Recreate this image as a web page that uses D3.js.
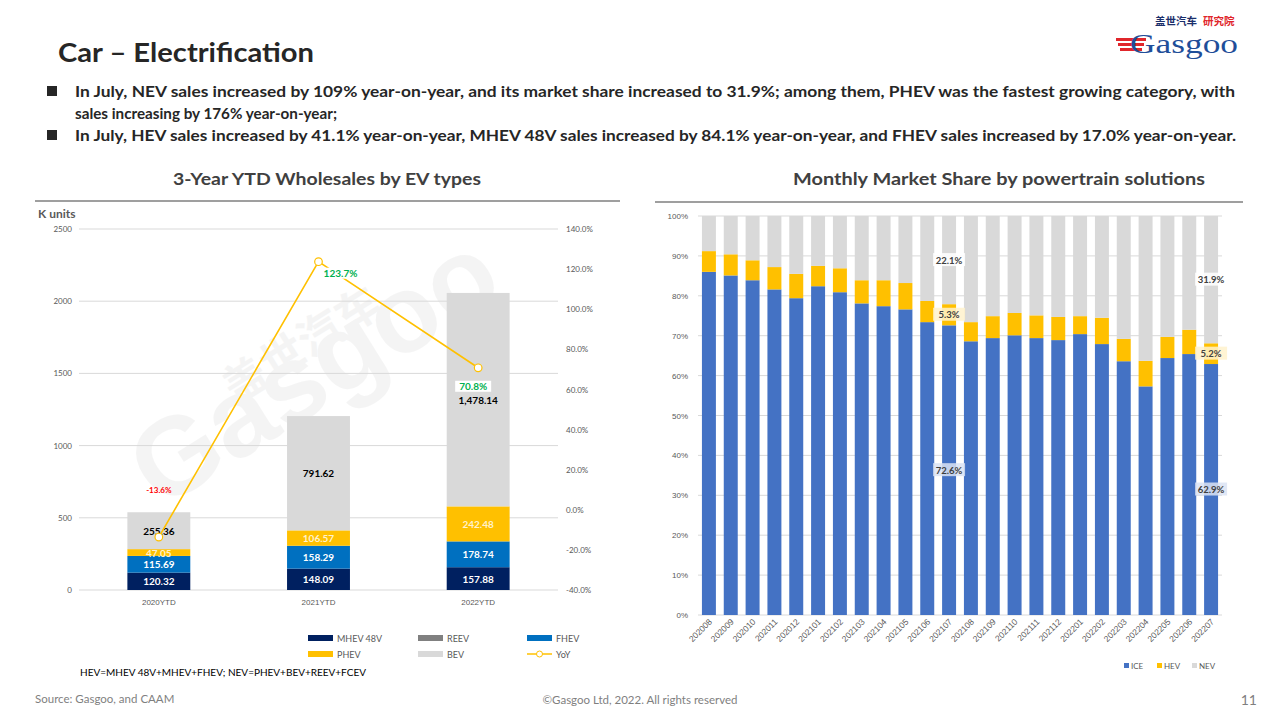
<!DOCTYPE html>
<html><head><meta charset="utf-8">
<script src="https://cdn.jsdelivr.net/npm/d3@7"></script>
<style>
body{margin:0;background:#fff;}
svg{display:block;font-family:Lato,"Noto Sans",sans-serif;}
</style></head>
<body><svg id="c" width="1280" height="720"></svg>
<script>
// ---------- DATA ----------
const ytdCategories = ["2020YTD","2021YTD","2022YTD"];
const mhev48v = [120.32,148.09,157.88];
const fhev    = [115.69,158.29,178.74];
const phev    = [47.05,106.57,242.48];
const reev    = [0,0,0];
const bev     = [255.36,791.62,1478.14];
const yoy     = [-13.6,123.7,70.8];
const leftTicks  = [0,500,1000,1500,2000,2500];
const rightTicks = [-40,-20,0,20,40,60,80,100,120,140];

const months = ["202008","202009","202010","202011","202012","202101","202102","202103","202104","202105","202106","202107",
                "202108","202109","202110","202111","202112","202201","202202","202203","202204","202205","202206","202207"];
const iceShare = [86.0,85.1,83.9,81.6,79.4,82.4,80.9,78.1,77.4,76.6,73.4,72.6,68.6,69.4,70.1,69.4,68.9,70.4,67.9,63.6,57.3,64.4,65.4,62.9];
const hevShare = [5.2,5.3,5.0,5.6,6.1,5.1,6.0,5.8,6.5,6.6,5.3,5.3,4.8,5.5,5.6,5.7,5.8,4.5,6.6,5.6,6.4,5.3,6.1,5.2];
const nevShare = [8.8,9.6,11.1,12.8,14.5,12.5,13.1,16.1,16.1,16.8,21.3,22.1,26.6,25.1,24.3,24.9,25.3,25.1,25.5,30.8,36.3,30.3,28.5,31.9];
const shareTicks = [0,10,20,30,40,50,60,70,80,90,100];

// ---------- SETUP ----------
const svg = d3.select("#c");
const dark = "#262626", grey = "#595959", grid = "#d9d9d9";

// Header
svg.append("text").attr("x",58).attr("y",62).attr("font-size",27).attr("font-weight",700)
  .attr("fill",dark).attr("textLength",256).attr("lengthAdjust","spacingAndGlyphs").text("Car – Electrification");
const bullets = [
  {y:97, t:"In July, NEV sales increased by 109% year-on-year, and its market share increased to 31.9%; among them, PHEV was the fastest growing category, with", w:1160, b:true},
  {y:119,t:"sales increasing by 176% year-on-year;", w:262, b:false},
  {y:141,t:"In July, HEV sales increased by 41.1% year-on-year, MHEV 48V sales increased by 84.1% year-on-year, and FHEV sales increased by 17.0% year-on-year.", w:1161, b:true}
];
bullets.forEach(d=>{
  if(d.b) svg.append("rect").attr("x",47).attr("y",d.y-11).attr("width",10).attr("height",10).attr("fill",dark);
  svg.append("text").attr("x",75).attr("y",d.y).attr("font-size",15.5).attr("font-weight",700).attr("fill",dark)
    .attr("textLength",d.w).attr("lengthAdjust","spacingAndGlyphs").text(d.t);
});

// Logo
const logo = svg.append("g");
logo.append("text").attr("x",1155).attr("y",25).attr("font-size",10.5).attr("font-weight",700).attr("fill","#1b2f6b")
  .attr("font-family","Noto Sans CJK SC").text("盖世汽车");
logo.append("text").attr("x",1203).attr("y",25).attr("font-size",10.5).attr("font-weight",700).attr("fill","#e0262b")
  .attr("font-family","Noto Sans CJK SC").text("研究院");
[0,1,2].forEach(i=>logo.append("rect").attr("x",1116+i*2).attr("y",38+i*5).attr("width",30-i*4).attr("height",3).attr("fill","#e0262b"));
logo.append("text").attr("x",1130).attr("y",53).attr("font-size",27).attr("fill","#1f4e99")
  .attr("font-family","Liberation Serif").attr("textLength",108).attr("lengthAdjust","spacingAndGlyphs").text("Gasgoo");

// Footer
svg.append("text").attr("x",35).attr("y",703).attr("font-size",11.5).attr("fill","#7f7f7f").text("Source: Gasgoo, and CAAM");
svg.append("text").attr("x",640).attr("y",704).attr("text-anchor","middle").attr("font-size",11.5).attr("fill","#7f7f7f").text("©Gasgoo Ltd,  2022. All rights reserved");
svg.append("text").attr("x",1257).attr("y",705).attr("text-anchor","end").attr("font-size",14).attr("fill","#7f7f7f").text("11");

// ---------- LEFT CHART ----------
svg.append("text").attr("x",173).attr("y",185).attr("font-size",17).attr("font-weight",700)
  .attr("fill","#404040").attr("textLength",308).attr("lengthAdjust","spacingAndGlyphs").text("3-Year YTD Wholesales  by EV types");
svg.append("line").attr("x1",35).attr("x2",620).attr("y1",201).attr("y2",201).attr("stroke","#7f7f7f").attr("stroke-width",1.3);
svg.append("text").attr("x",38).attr("y",218).attr("font-size",12).attr("font-weight",700).attr("fill",grey).text("K units");

// watermark
const wm = svg.append("g").attr("opacity",0.4).attr("pointer-events","none");
wm.append("text").attr("transform","translate(160,510) rotate(-32)").attr("font-size",110).attr("font-weight",700)
  .attr("fill","#e6e6e6").attr("font-family","Liberation Sans").text("Gasgoo");
wm.append("text").attr("transform","translate(235,405) rotate(-32)").attr("font-size",44).attr("font-weight",700)
  .attr("fill","#e6e6e6").attr("font-family","Noto Sans CJK SC").text("盖世汽车");

const xL = d3.scaleBand().domain(ytdCategories).range([79,558]).paddingInner(0.606).paddingOuter(0.303);
const yL = d3.scaleLinear().domain([0,2500]).range([590,229]);
const yR = d3.scaleLinear().domain([-40,140]).range([590,229]);

const gL = svg.append("g");
gL.append("g").selectAll("line").data(leftTicks).join("line")
  .attr("x1",79).attr("x2",558).attr("y1",d=>yL(d)).attr("y2",d=>yL(d)).attr("stroke",grid).attr("stroke-width",1);

const axL = svg.append("g").attr("transform","translate(72,0)")
  .call(d3.axisLeft(yL).tickValues(leftTicks).tickSize(0).tickPadding(0).tickFormat(d3.format("d")));
axL.select(".domain").remove();
axL.selectAll("text").attr("font-size",8).attr("fill",grey).attr("font-family","Lato");

const axR = svg.append("g").attr("transform","translate(566,0)")
  .call(d3.axisRight(yR).tickValues(rightTicks).tickSize(0).tickPadding(0).tickFormat(d=>d.toFixed(1)+"%"));
axR.select(".domain").remove();
axR.selectAll("text").attr("font-size",8).attr("fill",grey).attr("font-family","Lato");

const axB = svg.append("g").attr("transform","translate(0,598)").call(d3.axisBottom(xL).tickSize(0).tickPadding(0));
axB.select(".domain").remove();
axB.selectAll("text").attr("font-size",8).attr("fill",grey).attr("dy","0.9em");

const evSeries = [
  {name:"MHEV 48V", vals:mhev48v, color:"#002060", label:"#ffffff"},
  {name:"FHEV", vals:fhev, color:"#0070c0", label:"#ffffff"},
  {name:"PHEV", vals:phev, color:"#ffc000", label:"#fff2cc"},
  {name:"REEV", vals:reev, color:"#808080", label:null},
  {name:"BEV", vals:bev, color:"#d9d9d9", label:"#000000"}
];
const stackData = ytdCategories.map((c,i)=>{
  const o={cat:c}; evSeries.forEach(s=>o[s.name]=s.vals[i]); return o;});
const stacked = d3.stack().keys(evSeries.map(s=>s.name))(stackData);
stacked.forEach((layer,li)=>{
  const s = evSeries[li];
  gL.append("g").selectAll("rect").data(layer).join("rect")
    .attr("x",d=>xL(d.data.cat)).attr("width",xL.bandwidth())
    .attr("y",d=>yL(d[1])).attr("height",d=>yL(d[0])-yL(d[1])).attr("fill",s.color);
});
// labels
stacked.forEach((layer,li)=>{
  const s = evSeries[li];
  if(!s.label) return;
  gL.append("g").selectAll("text").data(layer).join("text")
    .attr("x",d=>xL(d.data.cat)+xL.bandwidth()/2)
    .attr("y",d=>(yL(d[0])+yL(d[1]))/2+4)
    .attr("text-anchor","middle").attr("font-size",10).attr("font-weight",700).attr("fill",s.label)
    .text(d=>d3.format(",.2f")(d.data[s.name]));
});

// YoY line
const cx = c=>xL(c)+xL.bandwidth()/2;
const lineGen = d3.line().x((d,i)=>cx(ytdCategories[i])).y(d=>yR(d));
gL.append("path").datum(yoy).attr("d",lineGen).attr("fill","none").attr("stroke","#ffc000").attr("stroke-width",1.6);
gL.append("g").selectAll("circle").data(yoy).join("circle")
  .attr("cx",(d,i)=>cx(ytdCategories[i])).attr("cy",d=>yR(d)).attr("r",3.8)
  .attr("fill","#fff").attr("stroke","#ffc000").attr("stroke-width",1.2);
const yoyLab = [{dx:0,dy:-44,col:"#ff0000",bg:false},{dx:22,dy:15,col:"#00b050",bg:true},{dx:-5,dy:22,col:"#00b050",bg:true}];
yoy.forEach((v,i)=>{
  const L=yoyLab[i], x=cx(ytdCategories[i])+L.dx, y=yR(v)+L.dy;
  const fs = i===0?8:10;
  if(L.bg) gL.append("rect").attr("x",x-18).attr("y",y-9).attr("width",36).attr("height",11).attr("fill","#fff");
  gL.append("text").attr("x",x).attr("y",y).attr("text-anchor","middle").attr("font-size",fs).attr("font-weight",700)
    .attr("fill",L.col).text(v.toFixed(1)+"%");
});

// Left legend
const legL = [
  {n:"MHEV 48V",c:"#002060",x:308,y:638},{n:"REEV",c:"#808080",x:418,y:638},{n:"FHEV",c:"#0070c0",x:527,y:638},
  {n:"PHEV",c:"#ffc000",x:308,y:654},{n:"BEV",c:"#d9d9d9",x:418,y:654},{n:"YoY",c:"line",x:527,y:654}
];
legL.forEach(d=>{
  if(d.c==="line"){
    svg.append("line").attr("x1",d.x).attr("x2",d.x+25).attr("y1",d.y).attr("y2",d.y).attr("stroke","#ffc000").attr("stroke-width",1.5);
    svg.append("circle").attr("cx",d.x+12.5).attr("cy",d.y).attr("r",3).attr("fill","#fff").attr("stroke","#ffc000");
  } else svg.append("rect").attr("x",d.x).attr("y",d.y-3).attr("width",25).attr("height",6).attr("fill",d.c);
  svg.append("text").attr("x",d.x+29).attr("y",d.y+3.5).attr("font-size",9).attr("fill",grey).text(d.n);
});
svg.append("text").attr("x",80).attr("y",676).attr("font-size",10).attr("fill","#000").text("HEV=MHEV 48V+MHEV+FHEV; NEV=PHEV+BEV+REEV+FCEV");

// ---------- RIGHT CHART ----------
svg.append("text").attr("x",793).attr("y",185).attr("font-size",17).attr("font-weight",700)
  .attr("fill","#404040").attr("textLength",412).attr("lengthAdjust","spacingAndGlyphs").text("Monthly  Market  Share  by powertrain  solutions");
svg.append("line").attr("x1",655).attr("x2",1243).attr("y1",202).attr("y2",202).attr("stroke","#7f7f7f").attr("stroke-width",1.3);

const xM = d3.scaleBand().domain(months).range([698,1222]).paddingInner(0.36).paddingOuter(0.18);
const yM = d3.scaleLinear().domain([0,100]).range([615,216]);
const gR = svg.append("g");
gR.append("g").selectAll("line").data(shareTicks).join("line")
  .attr("x1",698).attr("x2",1222).attr("y1",d=>yM(d)).attr("y2",d=>yM(d)).attr("stroke",grid);

const axM = svg.append("g").attr("transform","translate(688,0)")
  .call(d3.axisLeft(yM).tickValues(shareTicks).tickSize(0).tickPadding(0).tickFormat(d=>d+"%"));
axM.select(".domain").remove();
axM.selectAll("text").attr("font-size",8).attr("fill",grey);

const shareSeries = [
  {name:"ICE",vals:iceShare,color:"#4472c4",bg:"#dae3f3"},
  {name:"HEV",vals:hevShare,color:"#ffc000",bg:"#fff2cc"},
  {name:"NEV",vals:nevShare,color:"#d9d9d9",bg:"#ffffff"}
];
const shareData = months.map((m,i)=>{const o={m}; shareSeries.forEach(s=>o[s.name]=s.vals[i]); return o;});
const sStack = d3.stack().keys(shareSeries.map(s=>s.name))(shareData);
sStack.forEach((layer,li)=>{
  gR.append("g").selectAll("rect").data(layer).join("rect")
    .attr("x",d=>xM(d.data.m)).attr("width",xM.bandwidth())
    .attr("y",d=>yM(d[1])).attr("height",d=>yM(d[0])-yM(d[1])).attr("fill",shareSeries[li].color);
});
const labelled = ["202107","202207"];
sStack.forEach((layer,li)=>{
  const s=shareSeries[li];
  layer.filter(d=>labelled.includes(d.data.m)).forEach(d=>{
    const x=xM(d.data.m)+xM.bandwidth()/2, y=(yM(d[0])+yM(d[1]))/2;
    gR.append("rect").attr("x",x-16).attr("y",y-7).attr("width",32).attr("height",13).attr("fill",s.bg).attr("opacity",0.85);
    gR.append("text").attr("x",x).attr("y",y+3.5).attr("text-anchor","middle").attr("font-size",9.5).attr("font-weight",700)
      .attr("fill","#404040").text(d.data[s.name].toFixed(1)+"%");
  });
});

const axMB = svg.append("g").attr("transform","translate(0,620)").call(d3.axisBottom(xM).tickSize(0).tickPadding(0));
axMB.select(".domain").remove();
axMB.selectAll("text").attr("font-size",8.5).attr("fill",grey)
  .attr("text-anchor","end").attr("dy","0.5em").attr("dx","0.1em").attr("transform","rotate(-45)");

// right legend
[{n:"ICE",c:"#4472c4",x:1124},{n:"HEV",c:"#ffc000",x:1157},{n:"NEV",c:"#d9d9d9",x:1192}].forEach(d=>{
  svg.append("rect").attr("x",d.x).attr("y",663).attr("width",5).attr("height",5).attr("fill",d.c);
  svg.append("text").attr("x",d.x+7).attr("y",669).attr("font-size",8).attr("fill",grey).text(d.n);
});
</script></body></html>
